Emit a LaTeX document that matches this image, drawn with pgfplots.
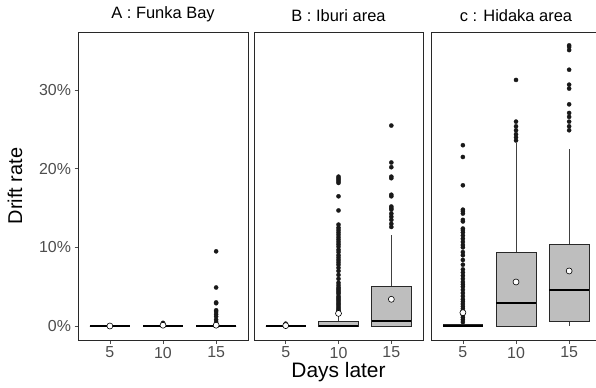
\documentclass[border=0pt]{standalone}
\usepackage{fontspec}
\setmainfont{Liberation Sans}
\usepackage{pgfplots}
\pgfplotsset{compat=1.18}
\usepgfplotslibrary{statistics}
\definecolor{boxgray}{RGB}{190,190,190}
\definecolor{tickgray}{RGB}{77,77,77}
\definecolor{border}{RGB}{40,40,40}
\pgfplotsset{
  facet/.style={
    scale only axis, width=170bp, height=308bp,
    xmin=0.4, xmax=3.6, ymin=-1.78, ymax=37.4,
    xtick={1,2,3}, xticklabels={5,10,15},
    ytick={0,10,20,30},
    tick align=outside, major tick length=3.5bp,
    xtick pos=bottom, ytick pos=left,
    tick style={draw=tickgray, line width=0.6bp},
    axis line style={draw=border, line width=0.9bp},
    ticklabel style={font=\fontsize{16}{17}\selectfont, text=tickgray},
    /pgf/number format/assume math mode=true,
    title style={font=\fontsize{16.5}{18}\selectfont, at={(axis description cs:0.5,1)}, anchor=south, yshift=1bp},
    xticklabel style={yshift=0bp},
    boxplot/draw direction=y,
    clip=false,
  },
  bx/.style={boxplot prepared={draw direction=y, box extend=0.75, whisker extend=0, #1},
     boxplot/every box/.style={draw=border, fill=boxgray, line width=0.7bp},
     boxplot/every whisker/.style={draw=black!75, line width=0.7bp},
     boxplot/every median/.style={draw=black, line width=1.8bp}},
  outl/.style={only marks, mark=*, mark size=2.1bp, mark options={draw=black!90, fill=black!90, line width=0.3bp}},
  meanpt/.style={only marks, mark=*, mark size=3bp, mark options={draw=black, fill=white, line width=0.6bp}},
}
\begin{document}
\begin{tikzpicture}[x=1bp,y=1bp]
\useasboundingbox (0,0) rectangle (596,387);
\clip (0,0) rectangle (596,387);
% Panel A
\begin{axis}[facet, at={(78bp,47bp)}, anchor=south west, width=170bp,
  title={A : Funka Bay},
  yticklabels={0\%,10\%,20\%,30\%},
  ylabel={Drift rate},
  ylabel style={font=\fontsize{20}{22}\selectfont, text=black, yshift=10bp}]
\addplot[bx={draw position=1, lower whisker=0, lower quartile=0, median=0, upper quartile=0, upper whisker=0}] coordinates {};
\addplot[bx={draw position=2, lower whisker=0, lower quartile=0, median=0, upper quartile=0, upper whisker=0}] coordinates {};
\addplot[bx={draw position=3, lower whisker=0, lower quartile=0, median=0, upper quartile=0, upper whisker=0}] coordinates {};
\addplot[outl] coordinates {(2,0.4) (3,9.5) (3,4.9) (3,3.0) (3,2.9) (3,2.0) (3,1.8) (3,1.5) (3,1.2) (3,0.8) (3,0.5)};
\addplot[meanpt] coordinates {(1,0) (2,0.1) (3,0.1)};
\end{axis}
% Panel B
\begin{axis}[facet, at={(254bp,47bp)}, anchor=south west, width=169bp,
  title={B : Iburi area}, ymajorticks=false,
  xlabel={Days later},
  xlabel style={font=\fontsize{21}{23}\selectfont, text=black, yshift=3bp}]
\addplot[bx={draw position=1, lower whisker=0, lower quartile=0, median=0, upper quartile=0, upper whisker=0}] coordinates {};
\addplot[bx={draw position=2, lower whisker=0, lower quartile=0, median=0.05, upper quartile=0.55, upper whisker=1.5}] coordinates {};
\addplot[bx={draw position=3, lower whisker=0, lower quartile=0, median=0.6, upper quartile=5.1, upper whisker=11.6}] coordinates {};
\addplot[outl] coordinates {(1,0.3)
 (2,1.9) (2,2.0) (2,2.2) (2,2.4) (2,2.6) (2,2.8) (2,3.0) (2,3.2) (2,3.4) (2,3.6) (2,3.8) (2,4.1) (2,4.3) (2,4.5) (2,4.7) (2,4.9) (2,5.2) (2,5.5) (2,6.0) (2,6.5) (2,7.0) (2,7.4) (2,7.8) (2,8.1) (2,8.4) (2,8.7) (2,9.0) (2,9.4) (2,9.7) (2,10.1) (2,10.4) (2,10.7) (2,11.0) (2,11.3) (2,11.6) (2,11.9) (2,12.2) (2,12.5) (2,12.9) (2,14.7) (2,16.5) (2,18.2) (2,18.4) (2,18.6) (2,18.8) (2,19.0)
 (3,12.6) (3,13.0) (3,13.5) (3,13.9) (3,14.3) (3,14.8) (3,15.0) (3,15.2) (3,16.5) (3,16.7) (3,18.8) (3,19.0) (3,20.2) (3,20.8) (3,25.5)};
\addplot[meanpt] coordinates {(1,0.05) (2,1.6) (3,3.4)};
\end{axis}
% Panel C
\begin{axis}[facet, at={(431bp,47bp)}, anchor=south west, width=170bp,
  title={c : Hidaka area}, ymajorticks=false]
\addplot[bx={draw position=1, lower whisker=0, lower quartile=0, median=0, upper quartile=0.15, upper whisker=0.35}] coordinates {};
\addplot[bx={draw position=2, lower whisker=0, lower quartile=0, median=2.9, upper quartile=9.4, upper whisker=23.3}] coordinates {};
\addplot[bx={draw position=3, lower whisker=0, lower quartile=0.64, median=4.6, upper quartile=10.4, upper whisker=22.5}] coordinates {};
\addplot[outl] coordinates {
 (1,0.5) (1,0.8) (1,1.1) (1,1.4) (1,1.8) (1,2.2) (1,2.5) (1,2.8) (1,3.1) (1,3.4) (1,3.8) (1,4.2) (1,4.6) (1,5.0) (1,5.3) (1,5.6) (1,6.0) (1,6.4) (1,6.8) (1,7.2) (1,7.8) (1,8.4) (1,9.0) (1,9.4) (1,10.0) (1,10.3) (1,10.7) (1,11.1) (1,11.5) (1,11.9) (1,12.2) (1,12.4) (1,13.3) (1,13.5) (1,14.3) (1,14.6) (1,14.8) (1,17.9) (1,21.5) (1,23.0)
 (2,23.6) (2,24.0) (2,24.4) (2,24.9) (2,25.4) (2,26.0) (2,31.3)
 (3,24.9) (3,25.4) (3,26.0) (3,26.6) (3,27.1) (3,28.2) (3,30.2) (3,30.7) (3,32.6) (3,35.1) (3,35.5) (3,35.7)};
\addplot[meanpt] coordinates {(1,1.7) (2,5.6) (3,7.0)};
\end{axis}
\end{tikzpicture}
\end{document}
